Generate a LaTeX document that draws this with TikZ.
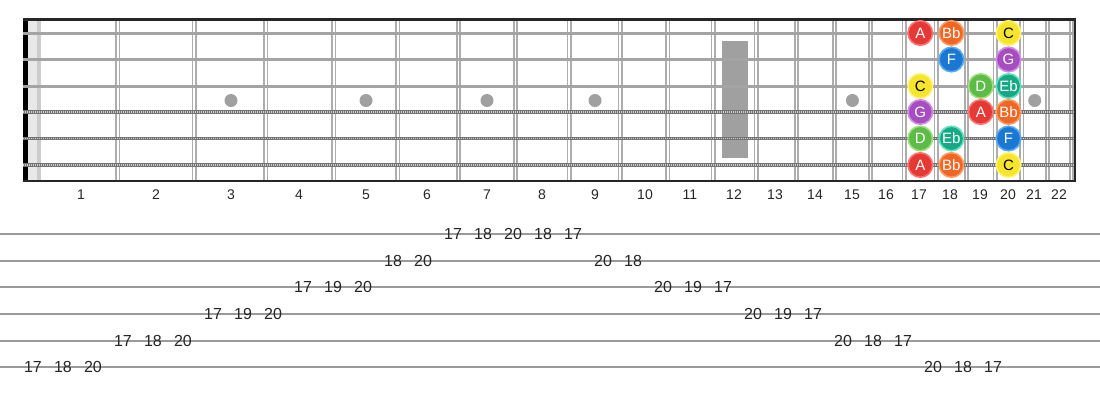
\documentclass[tikz,border=0pt]{standalone}
\usepackage{fontspec}
\setmainfont{Liberation Sans}
\begin{document}
\begin{tikzpicture}[x=1pt,y=-1pt,
  fretnum/.style={font=\fontsize{14}{14}\selectfont,text=black!85,inner sep=0pt},
  tabnum/.style={font=\fontsize{16}{16}\selectfont,text=black!85,inner sep=0pt},
  notecirc/.style={circle,minimum size=24.5pt,inner sep=0pt,line width=1.6pt,font=\fontsize{15}{15}\selectfont,text=white},
  nA/.style={notecirc,fill=cA,draw=rA},
  nBb/.style={notecirc,fill=cBb,draw=rBb},
  nC/.style={notecirc,fill=cC,draw=rC,text=black},
  nF/.style={notecirc,fill=cF,draw=rF},
  nG/.style={notecirc,fill=cG,draw=rG},
  nD/.style={notecirc,fill=cD,draw=rD},
  nEb/.style={notecirc,fill=cEb,draw=rEb},
  marker/.style={circle,fill=markgray,minimum size=13pt,inner sep=0pt},
  tabline/.style={draw=tabgray,line width=1.8pt}]
\definecolor{cA}{HTML}{E53935}\definecolor{rA}{HTML}{FF7272}
\definecolor{cBb}{HTML}{F26625}\definecolor{rBb}{HTML}{FF9A62}
\definecolor{cC}{HTML}{F6E52A}\definecolor{rC}{HTML}{FFF27A}
\definecolor{cF}{HTML}{1A78D2}\definecolor{rF}{HTML}{55AAF0}
\definecolor{cG}{HTML}{A64DC0}\definecolor{rG}{HTML}{D48CEA}
\definecolor{cD}{HTML}{5DBB47}\definecolor{rD}{HTML}{A0E07C}
\definecolor{cEb}{HTML}{17A886}\definecolor{rEb}{HTML}{62E3C0}
\definecolor{markgray}{HTML}{A0A0A0}
\definecolor{tabgray}{HTML}{9A9A9A}
\definecolor{fretgray}{HTML}{ADADAD}
\definecolor{strgray}{HTML}{A4A4A4}
\useasboundingbox (0,0) rectangle (1100,400);
\fill[white] (0,0) rectangle (1100,400);
% nut area
\fill[black] (23,20) rectangle (28,180.5);
\fill[black!9] (28,20) rectangle (36.5,180.5);
\fill[black!20] (36.5,20) rectangle (41,180.5);
% fret wires
\foreach \fx in {117.98,194.12,265.99,333.83,397.87,458.30,515.35,569.19,620.02,667.98,713.26,756.0,796.34,834.41,870.35,904.27,936.28,966.50,995.03,1021.95,1047.36,1071.33}{
  \draw[fretgray,line width=5pt] (\fx,20) -- (\fx,180.5);
  \draw[white,line width=1.6pt] (\fx,20) -- (\fx,180.5);
}
% inlays
\fill[markgray] (721.7,40.7) rectangle (748.3,158.3);
\foreach \mx/\nm in {231/m3,366/m5,487/m7,595/m9,852.4/m15,1034.7/m21}
  \node[marker] (\nm) at (\mx,100.5) {};
% strings
\foreach \sy in {33,59.5,86}
  \draw[strgray,line width=3pt] (23,\sy) -- (1075,\sy);
\foreach \sy in {112,138.5,165}{
  \draw[black!55,line width=3.4pt] (23,\sy) -- (1075,\sy);
  \draw[white!80!black,line width=1.4pt,dash pattern=on 1pt off 1pt] (23,\sy) -- (1075,\sy);
}
% borders
\draw[black!85,line width=2.4pt] (23,19.5) -- (1076,19.5);
\draw[black!85,line width=2.4pt] (23,180.8) -- (1076,180.8);
\draw[black!85,line width=2pt] (1075,19.5) -- (1075,180.8);
% fret numbers
\foreach \lx [count=\i] in {81,156,231,299,366,427,487,542,595,645,690,734,775,815,852,886,919,950,980,1008,1034,1059}
  \node[fretnum] (f\i) at (\lx,194.5) {\i};
% notes
\node[nA]  (n1a)  at (920.3,33) {A};
\node[nBb] (n1b)  at (951.4,33) {Bb};
\node[nC]  (n1c)  at (1008.5,33) {C};
\node[nF]  (n2a)  at (951.4,59.5) {F};
\node[nG]  (n2b)  at (1008.5,59.5) {G};
\node[nC]  (n3a)  at (920.3,86) {C};
\node[nD]  (n3b)  at (980.8,86) {D};
\node[nEb] (n3c)  at (1008.5,86) {Eb};
\node[nG]  (n4a)  at (920.3,112) {G};
\node[nA]  (n4b)  at (980.8,112) {A};
\node[nBb] (n4c)  at (1008.5,112) {Bb};
\node[nD]  (n5a)  at (920.3,138.5) {D};
\node[nEb] (n5b)  at (951.4,138.5) {Eb};
\node[nF]  (n5c)  at (1008.5,138.5) {F};
\node[nA]  (n6a)  at (920.3,165) {A};
\node[nBb] (n6b)  at (951.4,165) {Bb};
\node[nC]  (n6c)  at (1008.5,165) {C};
% tab lines
\foreach \ty in {234,260.7,287.3,314,340.7,367.3}
  \draw[tabline] (0,\ty) -- (1100,\ty);
% tab numbers: index/line y/fret
\foreach \k/\ty/\fr in {0/367.3/17,1/367.3/18,2/367.3/20,
  3/340.7/17,4/340.7/18,5/340.7/20,
  6/314/17,7/314/19,8/314/20,
  9/287.3/17,10/287.3/19,11/287.3/20,
  12/260.7/18,13/260.7/20,
  14/234/17,15/234/18,16/234/20,17/234/18,18/234/17,
  19/260.7/20,20/260.7/18,
  21/287.3/20,22/287.3/19,23/287.3/17,
  24/314/20,25/314/19,26/314/17,
  27/340.7/20,28/340.7/18,29/340.7/17,
  30/367.3/20,31/367.3/18,32/367.3/17}
  \node[tabnum] (t\k) at ({33+30*\k},\ty) {\fr};
\end{tikzpicture}
\end{document}
